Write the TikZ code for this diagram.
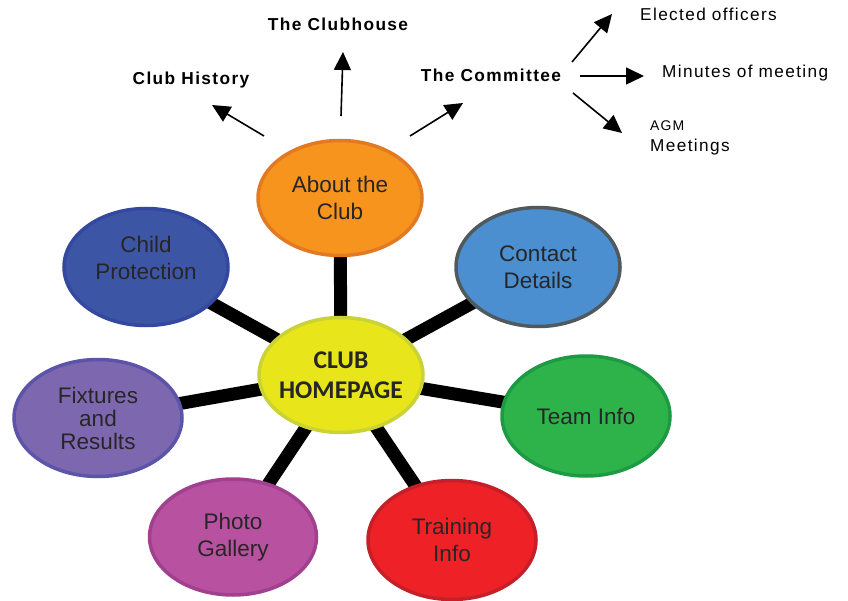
\documentclass[tikz,border=0pt]{standalone}
\usepackage{fontspec}
\setmainfont{Liberation Sans}
\newfontfamily\hubfont{Carlito}
\newfontfamily\widefont[LetterSpace=8]{Liberation Sans}
\usetikzlibrary{shapes.geometric,arrows.meta,backgrounds}

\definecolor{hubYellow}{HTML}{E8E51A}
\definecolor{hubRim}{HTML}{C9D236}
\definecolor{aboutOrange}{HTML}{F7941E}
\definecolor{aboutRim}{HTML}{E27A24}
\definecolor{contactBlue}{HTML}{4B8FD1}
\definecolor{contactRim}{HTML}{505A5E}
\definecolor{childBlue}{HTML}{3D55A5}
\definecolor{childRim}{HTML}{3548A0}
\definecolor{fixPurple}{HTML}{7D68B0}
\definecolor{fixRim}{HTML}{5C54A8}
\definecolor{teamGreen}{HTML}{2EB34B}
\definecolor{teamRim}{HTML}{1F9A44}
\definecolor{photoPink}{HTML}{B8519F}
\definecolor{photoRim}{HTML}{A0408F}
\definecolor{trainRed}{HTML}{EE2226}
\definecolor{trainRim}{HTML}{C51F2A}

\tikzset{
  bubble/.style={draw, ellipse, line width=3.5pt, minimum width=164pt, minimum height=115pt,
    inner sep=0pt, align=center, text=black!85, font=\fontsize{22.5}{27}\selectfont},
  spoke/.style={line width=13pt, black},
  topic/.style={font=\widefont\bfseries\fontsize{17.3}{20}\selectfont, inner sep=1pt},
  leaf/.style={font=\widefont\fontsize{17.2}{21}\selectfont, inner sep=1pt, anchor=west, align=left},
  arr/.style={-{Triangle[length=18pt,width=17pt]}, line width=1.6pt},
}

\begin{document}
\begin{tikzpicture}[x=1pt, y=-1pt]
\useasboundingbox (0,0) rectangle (848,601);

% the hub and its bubbles
\node[bubble, fill=hubYellow, draw=hubRim, inner xsep=-14pt, font=\hubfont\bfseries\fontsize{25.5}{30}\selectfont] (home) at (341,375) {CLUB\\HOMEPAGE};
\node[bubble, fill=aboutOrange, draw=aboutRim] (about) at (340,198) {About the\\Club};
\node[bubble, fill=contactBlue, draw=contactRim, minimum height=119pt] (contact) at (538,267) {Contact\\Details};
\node[bubble, fill=childBlue, draw=childRim, minimum height=117pt] (child) at (146,267) {Child\\Protection\\[-9pt]};
\node[bubble, fill=fixPurple, draw=fixRim, minimum width=168pt, minimum height=117pt] (fixtures) at (98,418) {Fixtures\\[-4pt]and\\[-4pt]Results};
\node[bubble, fill=teamGreen, draw=teamRim, minimum width=168pt, minimum height=120pt] (team) at (586,416) {Team Info};
\node[bubble, fill=photoPink, draw=photoRim, minimum width=167pt, minimum height=116pt] (photo) at (233,537) {Photo\\Gallery};
\node[bubble, fill=trainRed, draw=trainRim, minimum width=168pt, minimum height=119pt] (training) at (452,540) {Training\\Info};

\begin{pgfonlayer}{background}
\foreach \n in {about,contact,child,fixtures,team,photo,training}
  \draw[spoke] (home.center) -- (\n.center);
\end{pgfonlayer}

% sub pages of About the Club
\node[topic] (house) at (338,24) {The Clubhouse};
\node[topic] (history) at (191,80) {Club History};
\node[topic] (committee) at (491,75) {The Committee};
\node[leaf] (officers) at (639,14) {Elected officers};
\node[leaf] (minutes) at (661,73) {Minutes of meeting};
\node[leaf] (agm) at (649,138) {{\fontsize{14}{14}\selectfont AGM}\\Meetings};

\coordinate (histTail) at (264,136);
\coordinate (histHead) at (212,105);
\coordinate (houseTail) at (341,116);
\coordinate (houseHead) at (343,52);
\coordinate (comTail) at (410,136);
\coordinate (comHead) at (463,103);
\coordinate (offTail) at (572,62);
\coordinate (offHead) at (612,14);
\coordinate (minTail) at (580,76);
\coordinate (minHead) at (644,76);
\coordinate (agmTail) at (573,93);
\coordinate (agmHead) at (622,133);

\draw[arr] (histTail) -- (histHead);
\draw[arr] (houseTail) -- (houseHead);
\draw[arr] (comTail) -- (comHead);
\draw[arr] (offTail) -- (offHead);
\draw[arr] (minTail) -- (minHead);
\draw[arr] (agmTail) -- (agmHead);
\end{tikzpicture}
\end{document}
